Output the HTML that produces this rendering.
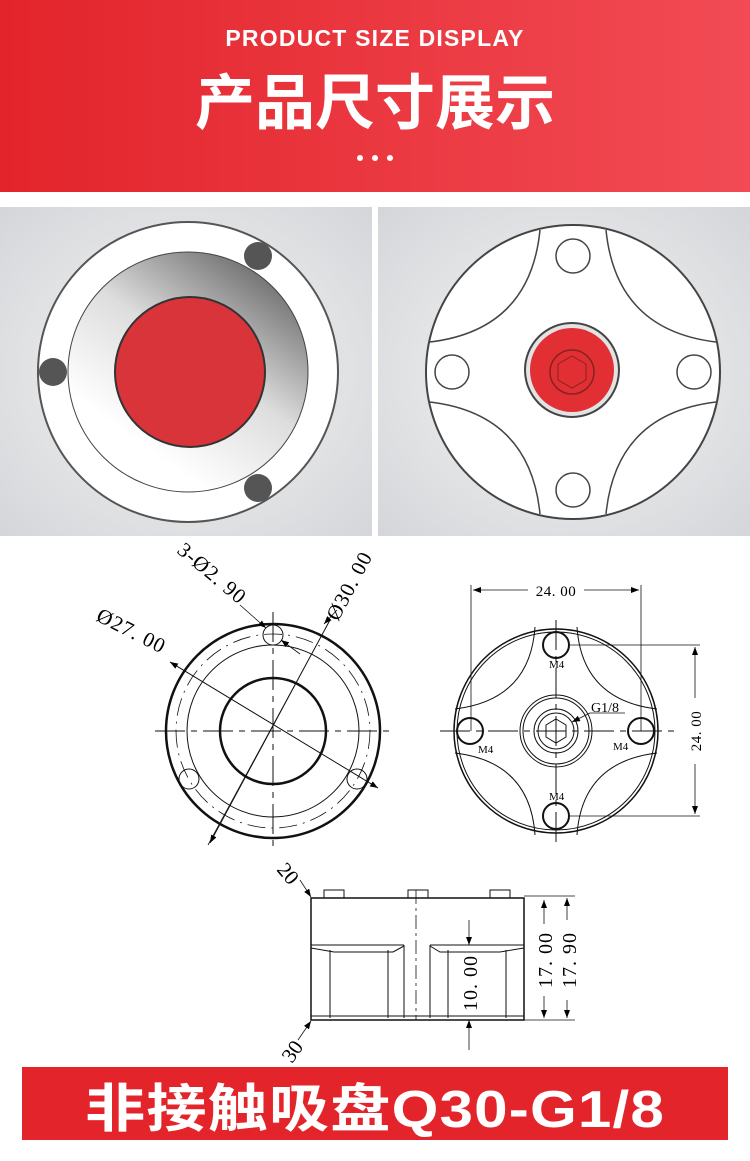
<!DOCTYPE html>
<html><head><meta charset="utf-8"><style>
body{margin:0;width:750px;height:1156px;overflow:hidden;background:#fff;font-family:"Liberation Sans","Noto Sans CJK SC",sans-serif}
</style></head><body>
<svg width="750" height="1156" viewBox="0 0 750 1156" xmlns="http://www.w3.org/2000/svg" font-family="Liberation Serif, serif">
<defs>
<linearGradient id="hd" x1="0" y1="0" x2="1" y2="0"><stop offset="0" stop-color="#e3242b"/><stop offset="1" stop-color="#f24b55"/></linearGradient>
<radialGradient id="bg" cx="0.5" cy="0.5" r="0.7"><stop offset="0" stop-color="#f4f5f6"/><stop offset="1" stop-color="#d4d6d9"/></radialGradient>
<linearGradient id="cone" x1="0.8" y1="0.1" x2="0.3" y2="0.8"><stop offset="0" stop-color="#777"/><stop offset="0.5" stop-color="#ddd"/><stop offset="1" stop-color="#fff"/></linearGradient>
<marker id="ar" markerWidth="8" markerHeight="6" refX="8" refY="3" orient="auto" markerUnits="userSpaceOnUse"><path d="M0,0L8,3L0,6z" fill="#000"/></marker>
</defs>
<rect width="750" height="192" fill="url(#hd)"/>
<text x="375" y="46" text-anchor="middle" font-family="Liberation Sans, sans-serif" font-weight="bold" font-size="23" fill="#fff" letter-spacing="1.2">PRODUCT SIZE DISPLAY</text>
<text x="375" y="124" text-anchor="middle" font-family="Liberation Sans, Noto Sans CJK SC, sans-serif" font-weight="bold" font-size="60" fill="#fff">产品尺寸展示</text>
<circle cx="360" cy="158" r="3" fill="#fff"/><circle cx="375" cy="158" r="3" fill="#fff"/><circle cx="390" cy="158" r="3" fill="#fff"/>

<rect x="0" y="207" width="372" height="329" fill="url(#bg)"/>
<rect x="378" y="207" width="372" height="329" fill="url(#bg)"/>
<!-- left photo -->
<circle cx="188" cy="372" r="150" fill="#fff" stroke="#555" stroke-width="2"/>
<circle cx="188" cy="372" r="120" fill="url(#cone)" stroke="#444" stroke-width="1"/>
<circle cx="190" cy="372" r="75" fill="#d9343a" stroke="#333" stroke-width="2"/>
<circle cx="258" cy="256" r="14" fill="#555"/>
<circle cx="258" cy="488" r="14" fill="#555"/>
<circle cx="53" cy="372" r="14" fill="#555"/>
<!-- right photo -->
<circle cx="573" cy="372" r="147" fill="#fff" stroke="#444" stroke-width="2"/>
<g fill="none" stroke="#444" stroke-width="1.5">
<path d="M540 230 Q530 330 430 342"/><path d="M606 230 Q616 330 716 342"/>
<path d="M540 514 Q530 414 430 402"/><path d="M606 514 Q616 414 716 402"/>
<circle cx="573" cy="256" r="17"/><circle cx="573" cy="490" r="17"/>
<circle cx="452" cy="372" r="17"/><circle cx="694" cy="372" r="17"/>
</g>
<circle cx="572" cy="370" r="47" fill="#e3e3e3" stroke="#444" stroke-width="2"/>
<circle cx="572" cy="370" r="42" fill="#e12f33"/>
<circle cx="572" cy="372" r="22" fill="none" stroke="#822" stroke-width="1.5"/>
<polygon points="572,356 586,364 586,380 572,388 558,380 558,364" fill="none" stroke="#822"/>

<!-- left drawing -->
<g fill="none" stroke="#111">
<circle cx="273" cy="731" r="107" stroke-width="2.5"/>
<circle cx="273" cy="731" r="86"/>
<circle cx="273" cy="731" r="97" stroke-dasharray="18 6 2 6" stroke-width="0.8"/>
<circle cx="273" cy="731" r="53" stroke-width="2.5"/>
<circle cx="273" cy="635" r="10"/><circle cx="189" cy="779" r="10"/><circle cx="357" cy="779" r="10"/>
<line x1="155" y1="731" x2="392" y2="731" stroke-dasharray="30 6 6 6"/>
<line x1="273" y1="612" x2="273" y2="850" stroke-dasharray="30 6 6 6"/>
<line x1="170" y1="662" x2="378" y2="788" stroke-width="0.8" marker-end="url(#ar)"/>
<line x1="378" y1="788" x2="170" y2="662" stroke-width="0.8" marker-end="url(#ar)"/>
<line x1="208" y1="845" x2="330" y2="620" stroke-width="0.8"/>
<line x1="330" y1="620" x2="210" y2="843" stroke-width="0.8" marker-end="url(#ar)"/>
<line x1="323" y1="624" x2="336" y2="610" stroke-width="0.8" marker-end="url(#ar)" transform="rotate(180 330 617)"/>
<line x1="240" y1="605" x2="266" y2="628" stroke-width="0.8" marker-end="url(#ar)"/>
<line x1="300" y1="654" x2="281" y2="640" stroke-width="0.8" marker-end="url(#ar)"/>
</g>
<text transform="translate(176 552) rotate(40)" font-size="21" letter-spacing="1">3-Ø2. 90</text>
<text transform="translate(338 622) rotate(-62)" font-size="21" letter-spacing="1">Ø30. 00</text>
<text transform="translate(95 620) rotate(27)" font-size="21" letter-spacing="1">Ø27. 00</text>

<!-- right drawing -->
<g fill="none" stroke="#111">
<circle cx="556" cy="731" r="102" stroke-width="1.5"/>
<circle cx="556" cy="731" r="99"/>
<path d="M535 627 Q530 700 455 709"/><path d="M577 627 Q582 700 657 709"/>
<path d="M535 835 Q530 762 455 753"/><path d="M577 835 Q582 762 657 753"/>
<circle cx="556" cy="645" r="13" stroke-width="2"/><circle cx="556" cy="816" r="13" stroke-width="2"/>
<circle cx="470" cy="731" r="13" stroke-width="2"/><circle cx="641" cy="731" r="13" stroke-width="2"/>
<circle cx="556" cy="731" r="36"/><circle cx="556" cy="731" r="33"/>
<circle cx="556" cy="731" r="22"/><circle cx="556" cy="731" r="18"/>
<polygon points="556,719 566,725 566,737 556,743 546,737 546,725"/>
<line x1="440" y1="731" x2="675" y2="731" stroke-dasharray="30 6 6 6"/>
<line x1="556" y1="620" x2="556" y2="845" stroke-dasharray="30 6 6 6"/>
<line x1="471" y1="585" x2="471" y2="731" stroke-width="0.8"/>
<line x1="641" y1="585" x2="641" y2="731" stroke-width="0.8"/>
<line x1="528" y1="590" x2="473" y2="590" stroke-width="0.8" marker-end="url(#ar)"/>
<line x1="584" y1="590" x2="639" y2="590" stroke-width="0.8" marker-end="url(#ar)"/>
<line x1="570" y1="645" x2="700" y2="645" stroke-width="0.8"/>
<line x1="570" y1="816" x2="700" y2="816" stroke-width="0.8"/>
<line x1="695" y1="698" x2="695" y2="647" stroke-width="0.8" marker-end="url(#ar)"/>
<line x1="695" y1="764" x2="695" y2="814" stroke-width="0.8" marker-end="url(#ar)"/>
<line x1="625" y1="713" x2="590" y2="713" stroke-width="0.8"/>
<line x1="590" y1="713" x2="572" y2="722" stroke-width="0.8" marker-end="url(#ar)"/>
</g>
<text x="556" y="596" text-anchor="middle" font-size="15" letter-spacing="0.5">24. 00</text>
<text transform="translate(701 731) rotate(-90)" text-anchor="middle" font-size="15" letter-spacing="0.5">24. 00</text>
<text x="591" y="712" font-size="14">G1/8</text>
<g font-size="11"><text x="549" y="668">M4</text><text x="478" y="753">M4</text><text x="613" y="750">M4</text><text x="549" y="800">M4</text></g>

<!-- side view -->
<g fill="none" stroke="#111">
<rect x="324" y="890" width="20" height="8"/><rect x="408" y="890" width="20" height="8"/><rect x="490" y="890" width="20" height="8"/>
<rect x="311" y="898" width="213" height="122" stroke-width="1.5"/>
<line x1="311" y1="945" x2="404" y2="945"/><line x1="430" y1="945" x2="524" y2="945"/>
<path d="M311 948 L334 952 L393 952 L404 946"/><path d="M430 946 L440 952 L500 952 L524 948"/>
<line x1="330" y1="950" x2="330" y2="1018"/><line x1="388" y1="950" x2="388" y2="1018"/>
<line x1="404" y1="945" x2="404" y2="1018"/><line x1="430" y1="945" x2="430" y2="1018"/>
<line x1="448" y1="950" x2="448" y2="1018"/><line x1="506" y1="950" x2="506" y2="1018"/>
<line x1="311" y1="1016" x2="524" y2="1016"/>
<line x1="416" y1="890" x2="416" y2="1020" stroke-dasharray="14 4 3 4" stroke-width="0.8"/>
<line x1="524" y1="896" x2="575" y2="896" stroke-width="0.8"/>
<line x1="524" y1="1020" x2="575" y2="1020" stroke-width="0.8"/>
<line x1="544" y1="924" x2="544" y2="900" stroke-width="0.8" marker-end="url(#ar)"/>
<line x1="544" y1="996" x2="544" y2="1018" stroke-width="0.8" marker-end="url(#ar)"/>
<line x1="567" y1="920" x2="567" y2="898" stroke-width="0.8" marker-end="url(#ar)"/>
<line x1="567" y1="1000" x2="567" y2="1018" stroke-width="0.8" marker-end="url(#ar)"/>
<line x1="469" y1="920" x2="469" y2="945" stroke-width="0.8" marker-end="url(#ar)"/>
<line x1="469" y1="1050" x2="469" y2="1020" stroke-width="0.8" marker-end="url(#ar)"/>
<line x1="300" y1="880" x2="311" y2="897" stroke-width="0.8" marker-end="url(#ar)"/>
<line x1="298" y1="1040" x2="311" y2="1021" stroke-width="0.8" marker-end="url(#ar)"/>
</g>
<text transform="translate(552 960) rotate(-90)" text-anchor="middle" font-size="20" letter-spacing="1">17. 00</text>
<text transform="translate(576 960) rotate(-90)" text-anchor="middle" font-size="20" letter-spacing="1">17. 90</text>
<text transform="translate(477 983) rotate(-90)" text-anchor="middle" font-size="20" letter-spacing="1">10. 00</text>
<text transform="translate(276 870) rotate(50)" font-size="21">20</text>
<text transform="translate(292 1064) rotate(-55)" font-size="21">30</text>

<rect x="22" y="1067" width="706" height="73" fill="#e3242b"/>
<text x="375" y="1127" text-anchor="middle" font-family="Liberation Sans, Noto Sans CJK SC, sans-serif" font-weight="bold" font-size="52" fill="#fff" letter-spacing="1" textLength="580" lengthAdjust="spacingAndGlyphs">非接触吸盘Q30-G1/8</text>
</svg>
</body></html>
